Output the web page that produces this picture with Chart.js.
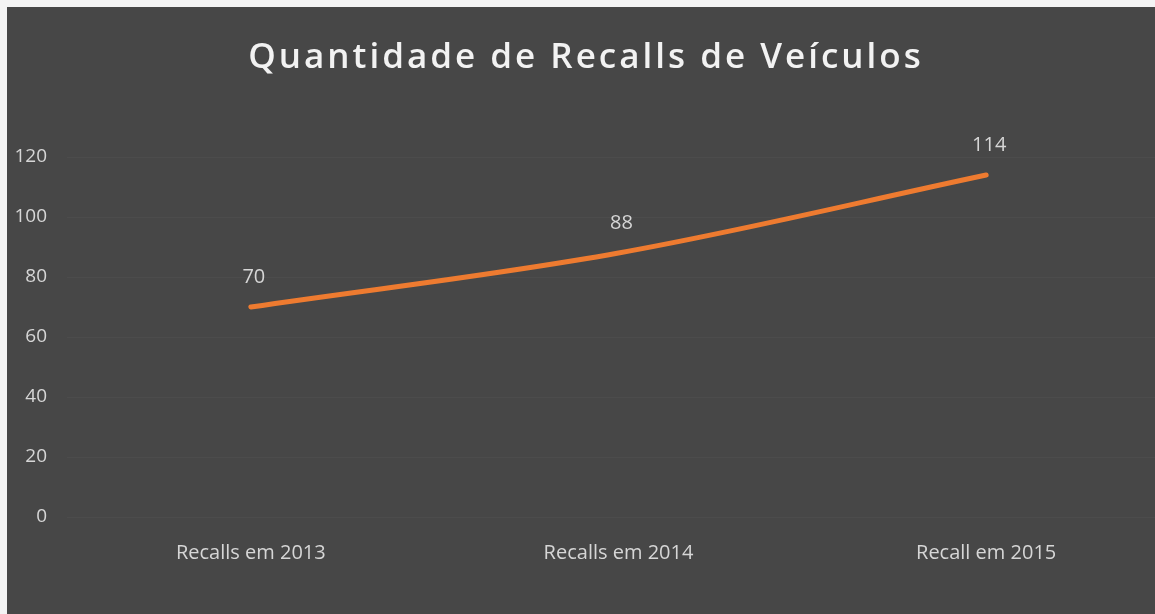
<!DOCTYPE html>
<html>
<head>
<meta charset="utf-8">
<script src="https://cdn.jsdelivr.net/npm/chart.js@4.4.0/dist/chart.umd.min.js"></script>
<style>
  html, body { margin: 0; padding: 0; background: #f4f4f4; overflow: hidden; }
  #wrap { position: absolute; left: 7px; top: 7px; width: 1163px; height: 607px; background: #474747; }
</style>
</head>
<body>
<div id="wrap"><canvas id="chart"></canvas></div>
<script>
const categories = ['Recalls em 2013', 'Recalls em 2014', 'Recall em 2015'];
const recalls = [70, 88, 114];
const yTicks = [0, 20, 40, 60, 80, 100, 120];
const chartTitle = 'Quantidade de Recalls de Veículos';

// title with letter spacing, chart.js title box can't do that
const spacedTitle = {
    id: 'spacedTitle',
    afterDraw(chart) {
        const ctx = chart.ctx;
        ctx.save();
        ctx.font = '600 35px "Open Sans", sans-serif';
        ctx.letterSpacing = '3px';
        ctx.fillStyle = '#f2f2f2';
        ctx.textAlign = 'center';
        ctx.textBaseline = 'middle';
        ctx.fillText(chartTitle, 579, 51);
        ctx.restore();
    }
};

// draws the value above each point, like excel data labels
const valueLabels = {
    id: 'valueLabels',
    afterDatasetsDraw(chart) {
        const ctx = chart.ctx;
        const meta = chart.getDatasetMeta(0);
        ctx.save();
        ctx.font = '20px "Open Sans", sans-serif';
        ctx.fillStyle = '#d6d6d6';
        ctx.textAlign = 'center';
        ctx.textBaseline = 'middle';
        meta.data.forEach((pt, i) => {
            ctx.fillText(String(recalls[i]), pt.x + 3, pt.y - 30);
        });
        ctx.restore();
    }
};

const ctx = document.getElementById('chart').getContext('2d');
new Chart(ctx, {
    type: 'line',
    data: {
        labels: categories,
        datasets: [{
            label: 'Recalls',
            data: recalls,
            borderColor: '#ee7b30',
            borderWidth: 5,
            borderCapStyle: 'round',
            pointRadius: 0,
            tension: 0.35,
            fill: false
        }]
    },
    options: {
        responsive: true,
        maintainAspectRatio: false,
        animation: false,
        layout: { padding: { top: 150, right: 0, bottom: 0, left: 0 } },
        plugins: {
            legend: { display: false },
            tooltip: { enabled: false },
            title: { display: false }
        },
        scales: {
            x: {
                offset: true,
                grid: { display: false, drawTicks: false },
                border: { display: false },
                ticks: {
                    color: '#d6d6d6',
                    font: { family: '"Open Sans", sans-serif', size: 20 },
                    padding: 24,
                    maxRotation: 0
                },
                afterFit(scale) { scale.height = 97; }
            },
            y: {
                min: 0,
                max: 120,
                afterBuildTicks(scale) { scale.ticks = yTicks.map(v => ({ value: v })); },
                grid: { color: 'rgba(255,255,255,0.03)', drawTicks: false },
                border: { display: false },
                ticks: {
                    color: '#d6d6d6',
                    font: { family: '"Open Sans", sans-serif', size: 19 },
                    padding: 20
                },
                afterFit(scale) { scale.width = 60; }
            }
        }
    },
    plugins: [spacedTitle, valueLabels]
});
</script>
</body>
</html>
